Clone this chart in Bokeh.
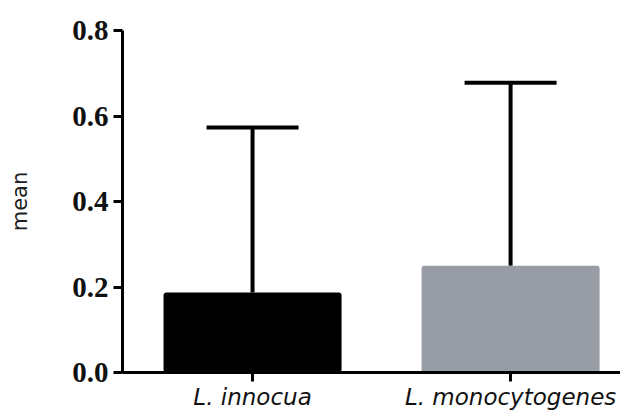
from bokeh.plotting import figure
from bokeh.models import ColumnDataSource, Range1d, FixedTicker, Whisker, TeeHead
from bokeh.embed import file_html
from bokeh.resources import INLINE

categories = ["L. innocua", "L. monocytogenes"]
means = [0.187, 0.250]
upper_err = [0.573, 0.678]
bar_colors = ["#000000", "#989ca4"]
y_ticks = [0.0, 0.2, 0.4, 0.6, 0.8]

xs = list(range(1, len(categories) + 1))
src = ColumnDataSource(dict(x=xs, mean=means, upper=upper_err, color=bar_colors))

p = figure(width=620, height=412, output_backend="svg", toolbar_location=None,
           x_range=Range1d(0.496, 2.426), y_range=Range1d(0, 0.8),
           min_border_left=122, min_border_right=0, min_border_top=30, min_border_bottom=40)
p.outline_line_color = None
p.xgrid.visible = False
p.ygrid.visible = False

p.vbar(x="x", top="mean", width=0.69, bottom=0, fill_color="color", line_color=None,
       border_radius=3, source=src)

w = Whisker(base="x", upper="upper", lower="mean", source=src, line_width=4, line_color="black",
            upper_head=TeeHead(size=92, line_width=4, line_color="black"), lower_head=None)
p.add_layout(w)

p.yaxis.ticker = FixedTicker(ticks=y_ticks)
p.yaxis.formatter.use_scientific = False
p.yaxis.major_label_overrides = {t: f"{t:.1f}" for t in y_ticks}
p.yaxis.major_label_text_font = "Liberation Serif"
p.yaxis.major_label_text_font_style = "bold"
p.yaxis.major_label_text_font_size = "29px"
p.yaxis.major_label_text_color = "#111111"
p.yaxis.axis_label = "mean"
p.yaxis.axis_label_text_font = "DejaVu Sans"
p.yaxis.axis_label_text_font_style = "normal"
p.yaxis.axis_label_text_font_size = "21px"
p.yaxis.axis_label_text_color = "#222222"
p.yaxis.axis_label_standoff = 37
p.yaxis.major_label_standoff = 5

p.xaxis.ticker = FixedTicker(ticks=xs)
p.xaxis.major_label_overrides = {x: c for x, c in zip(xs, categories)}
p.xaxis.major_label_text_font = "DejaVu Sans"
p.xaxis.major_label_text_font_style = "italic"
p.xaxis.major_label_text_font_size = "23px"
p.xaxis.major_label_text_color = "#111111"
p.xaxis.major_label_standoff = 2

for ax in (p.xaxis, p.yaxis):
    ax.axis_line_width = 3
    ax.axis_line_color = "black"
    ax.major_tick_line_width = 3
    ax.major_tick_line_color = "black"
    ax.major_tick_in = 0
    ax.major_tick_out = 9
    ax.minor_tick_line_color = None

open("out.html", "w").write(file_html(p, INLINE))
